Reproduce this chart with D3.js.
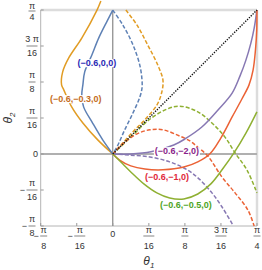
<!DOCTYPE html>
<html>
<head>
<meta charset="utf-8">
<script src="https://cdn.jsdelivr.net/npm/d3@7"></script>
<style>
  body { margin: 0; background: #fff; }
  text { font-family: "Liberation Sans", Arial, sans-serif; }
</style>
</head>
<body>
<script>
var width = 262,
  height = 270;

// curves, [theta1, theta2] in radians
var orangeSolid = [[-0.065, 0.834], [-0.086, 0.785], [-0.169, 0.632], [-0.240, 0.524], [-0.273, 0.448], [-0.279, 0.377],
  [-0.267, 0.350], [-0.224, 0.257], [-0.163, 0.169], [-0.082, 0.077], [0, 0]];
var blueSolid = [[0, 0.785], [-0.033, 0.721], [-0.077, 0.632], [-0.114, 0.540], [-0.153, 0.448], [-0.163, 0.377],
  [-0.169, 0.322], [-0.159, 0.257], [-0.110, 0.169], [-0.055, 0.077], [0, 0]];
var blueDashed = [[0, 0.785], [0.055, 0.703], [0.110, 0.595], [0.147, 0.485], [0.159, 0.404], [0.159, 0.359],
  [0.147, 0.310], [0.110, 0.224], [0.065, 0.132], [0.022, 0.037], [0, 0]];
var orangeDashed = [[0.071, 0.785], [0.132, 0.703], [0.190, 0.595], [0.245, 0.485], [0.273, 0.404], [0.267, 0.338],
  [0.240, 0.267], [0.177, 0.190], [0.114, 0.126], [0.055, 0.061], [0, 0]];
var greenDashed = [[0, 0], [0.098, 0.092], [0.202, 0.190], [0.295, 0.245], [0.365, 0.261], [0.463, 0.230],
  [0.540, 0.169], [0.611, 0.092], [0.666, 0.006], [0.730, -0.086], [0.785, -0.212]];
var redDashed = [[0, 0], [0.059, 0.059], [0.132, 0.110], [0.202, 0.132], [0.273, 0.132], [0.350, 0.104],
  [0.420, 0.071], [0.463, 0.037], [0.518, -0.012], [0.595, -0.126], [0.666, -0.212], [0.736, -0.306], [0.770, -0.393]];
var purpleDashed = [[0, 0], [0.092, -0.006], [0.202, -0.016], [0.310, -0.043], [0.408, -0.088], [0.471, -0.137],
  [0.540, -0.212], [0.595, -0.289], [0.654, -0.387]];
var purpleSolid = [[0, 0], [0.098, 0], [0.208, 0.012], [0.332, 0.049], [0.393, 0.082], [0.485, 0.147], [0.573, 0.240],
  [0.650, 0.332], [0.693, 0.426], [0.725, 0.512], [0.752, 0.605], [0.770, 0.687], [0.785, 0.785]];
var redSolid = [[0, 0], [0.037, -0.033], [0.098, -0.065], [0.175, -0.082], [0.273, -0.086], [0.387, -0.071],
  [0.463, -0.043], [0.528, 0], [0.589, 0.088], [0.650, 0.202], [0.703, 0.300], [0.742, 0.377], [0.764, 0.458],
  [0.777, 0.567], [0.784, 0.676], [0.785, 0.785]];
var greenSolid = [[0, 0], [0.055, -0.055], [0.098, -0.098], [0.169, -0.163], [0.240, -0.212], [0.310, -0.240],
  [0.387, -0.245], [0.463, -0.218], [0.534, -0.163], [0.595, -0.086], [0.660, 0.006], [0.725, 0.114], [0.785, 0.230]];
var diagonal = [[0, 0], [Math.PI / 4, Math.PI / 4]];

// tick values (multiples of pi/16) and labels
var tickSteps = [-2, -1, 0, 1, 2, 3, 4];
var tickNum = ["π", "π", "0", "π", "π", "3 π", "π"];
var tickDen = ["8", "16", "", "16", "8", "16", "4"];
var tickNeg = [true, true, false, false, false, false, false];

// curve labels
var labelText = ["(−0.6,0,0)", "(−0.6,−0.3,0)", "(−0.6,−2,0)", "(−0.6,−1,0)", "(−0.6,−0.5,0)"];
var labelAt = [[-0.087, 0.496], [-0.202, 0.300], [0.349, 0.016], [0.295, -0.125], [0.398, -0.278]];
var labelColor = ["#2a2ab4", "#c46c1c", "#8a1f8a", "#e0283a", "#4ea41e"];

var x = d3.scaleLinear().domain([-Math.PI / 8, Math.PI / 4]).range([40.7, 257]);
var y = d3.scaleLinear().domain([-Math.PI / 8, Math.PI / 4]).range([226, 10]);

var svg = d3.select("body").append("svg")
  .attr("width", width)
  .attr("height", height);

// frame
svg.append("line").attr("x1", x.range()[0]).attr("x2", x.range()[1]).attr("y1", y(Math.PI / 4)).attr("y2", y(Math.PI / 4))
  .attr("stroke", "#dcdcdc").attr("stroke-width", 2.5);
svg.append("line").attr("x1", x(Math.PI / 4)).attr("x2", x(Math.PI / 4)).attr("y1", y.range()[0]).attr("y2", y.range()[1])
  .attr("stroke", "#dcdcdc").attr("stroke-width", 2.5);
svg.append("line").attr("x1", x.range()[0]).attr("x2", x.range()[1]).attr("y1", y.range()[0]).attr("y2", y.range()[0])
  .attr("stroke", "#b4b4b4").attr("stroke-width", 1);
svg.append("line").attr("x1", x.range()[0]).attr("x2", x.range()[0]).attr("y1", y.range()[0]).attr("y2", y.range()[1])
  .attr("stroke", "#b4b4b4").attr("stroke-width", 1);

// zero axes
svg.append("line").attr("x1", x.range()[0]).attr("x2", x.range()[1]).attr("y1", y(0)).attr("y2", y(0))
  .attr("stroke", "#b0b0b0").attr("stroke-width", 2);
svg.append("line").attr("x1", x(0)).attr("x2", x(0)).attr("y1", y.range()[0]).attr("y2", y.range()[1])
  .attr("stroke", "#707070").attr("stroke-width", 1);

// ticks
var step = Math.PI / 16;
tickSteps.forEach(function (s) {
  svg.append("line").attr("x1", x.range()[0]).attr("x2", x.range()[0] + 3).attr("y1", y(s * step)).attr("y2", y(s * step))
    .attr("stroke", "#999");
  svg.append("line").attr("x1", x(s * step)).attr("x2", x(s * step)).attr("y1", y.range()[0]).attr("y2", y.range()[0] - 3)
    .attr("stroke", "#999");
});

function fraction(g, cx, lineY, numBase, denBase, i) {
  if (tickDen[i] === "") {
    return;
  }
  var w = tickDen[i].length > 1 || tickNum[i].length > 1 ? 10 : 6;
  g.append("text").attr("x", cx).attr("y", numBase).attr("text-anchor", "middle").text(tickNum[i]);
  g.append("line").attr("x1", cx - w / 2 - 0.5).attr("x2", cx + w / 2 + 0.5).attr("y1", lineY).attr("y2", lineY)
    .attr("stroke", "#333").attr("stroke-width", 0.6);
  g.append("text").attr("x", cx).attr("y", denBase).attr("text-anchor", "middle").text(tickDen[i]);
  if (tickNeg[i]) {
    g.append("text").attr("x", cx - w / 2 - 2).attr("y", lineY + 3).attr("text-anchor", "end").text("−");
  }
}

var tl = svg.append("g").attr("font-size", 9).attr("fill", "#333");

// left tick labels
tickSteps.forEach(function (s, i) {
  var ty = y(s * step);
  if (tickDen[i] === "") {
    tl.append("text").attr("x", 38).attr("y", ty + 3.2).attr("text-anchor", "end").text("0");
  } else if (s === 4) {
    fraction(tl, 32, 11, 8.8, 19.5, i);
  } else {
    fraction(tl, 32, ty, ty - 4.5, ty + 10, i);
  }
});

// bottom tick labels
tickSteps.forEach(function (s, i) {
  var cx = x(s * step) + (tickNeg[i] ? 3 : 0);
  if (tickDen[i] === "") {
    tl.append("text").attr("x", cx).attr("y", 237).attr("text-anchor", "middle").text("0");
  } else {
    fraction(tl, cx, 236, 232.5, 248.5, i);
  }
});

// axis titles
svg.append("text").attr("transform", "translate(12," + (y.range()[0] + y.range()[1]) / 2 + ") rotate(-90)")
  .attr("text-anchor", "middle").attr("font-size", 12).attr("font-style", "italic").attr("fill", "#333")
  .html("θ<tspan font-size='8' dy='3'>2</tspan>");
svg.append("text").attr("x", (x.range()[0] + x.range()[1]) / 2).attr("y", 265)
  .attr("text-anchor", "middle").attr("font-size", 12).attr("font-style", "italic").attr("fill", "#333")
  .html("θ<tspan font-size='8' dy='3'>1</tspan>");

var line = d3.line()
  .x(function (d) { return x(d[0]); })
  .y(function (d) { return y(d[1]); })
  .curve(d3.curveCatmullRom.alpha(0.5));

var series = [
  { data: blueDashed, color: "#5e81b5", dash: "4,2" },
  { data: orangeDashed, color: "#e19c24", dash: "4,2" },
  { data: greenDashed, color: "#8fb032", dash: "4,2" },
  { data: redDashed, color: "#eb6235", dash: "4,2" },
  { data: purpleDashed, color: "#8778b3", dash: "4,2" },
  { data: orangeSolid, color: "#e19c24", dash: null },
  { data: blueSolid, color: "#5e81b5", dash: null },
  { data: purpleSolid, color: "#8778b3", dash: null },
  { data: redSolid, color: "#eb6235", dash: null },
  { data: greenSolid, color: "#8fb032", dash: null }
];

svg.append("g").selectAll("path")
  .data(series)
  .enter()
  .append("path")
  .attr("d", function (d) { return line(d.data); })
  .attr("fill", "none")
  .attr("stroke", function (d) { return d.color; })
  .attr("stroke-width", 1.5)
  .attr("stroke-dasharray", function (d) { return d.dash; });

svg.append("path")
  .attr("d", line(diagonal))
  .attr("fill", "none")
  .attr("stroke", "#111")
  .attr("stroke-width", 1.4)
  .attr("stroke-dasharray", "1.3,1.3");

// curve labels with white background
var lg = svg.append("g").selectAll("g")
  .data(labelText)
  .enter()
  .append("g")
  .attr("transform", function (d, i) { return "translate(" + x(labelAt[i][0]) + "," + y(labelAt[i][1]) + ")"; });

lg.append("text")
  .attr("text-anchor", "middle")
  .attr("dy", "0.35em")
  .attr("font-size", 9)
  .attr("font-weight", "bold")
  .attr("fill", function (d, i) { return labelColor[i]; })
  .text(function (d) { return d; });

lg.each(function () {
  var g = d3.select(this);
  var b = g.select("text").node().getBBox();
  g.insert("rect", "text")
    .attr("x", b.x - 1).attr("y", b.y + 1)
    .attr("width", b.width + 2).attr("height", b.height - 2)
    .attr("fill", "#fff");
});
</script>
</body>
</html>
